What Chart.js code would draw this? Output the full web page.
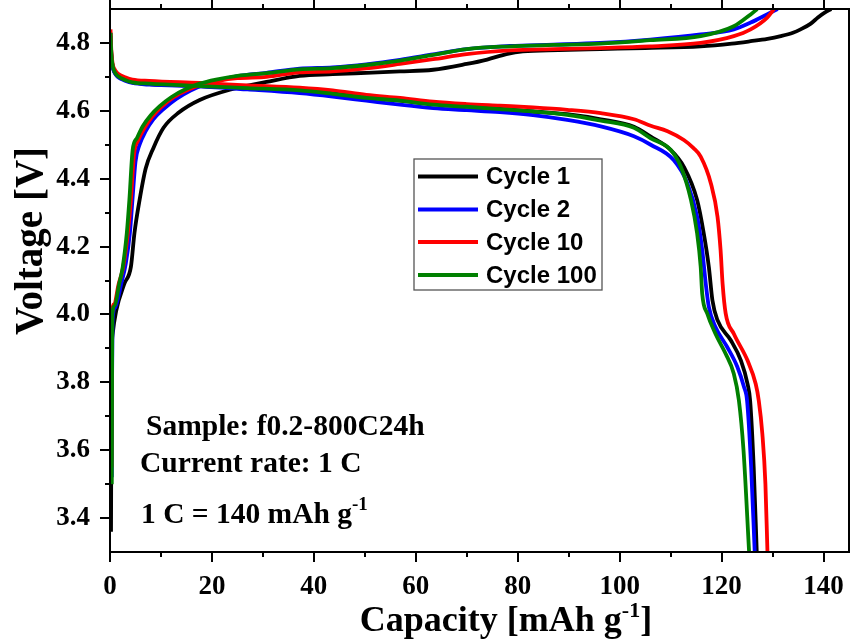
<!DOCTYPE html>
<html>
<head>
<meta charset="utf-8">
<script src="https://cdn.jsdelivr.net/npm/chart.js@4.4.1/dist/chart.umd.min.js"></script>
<style>
  html, body { margin: 0; padding: 0; background: #fff; }
  canvas { display: block; }
</style>
</head>
<body>
<canvas id="c" width="850" height="641"></canvas>
<script>
// ---------------- DATA ----------------
const capacityTicks = [0, 20, 40, 60, 80, 100, 120, 140];
const capacityMinorTicks = [10, 30, 50, 70, 90, 110, 130];
const voltageTicks = [3.4, 3.6, 3.8, 4.0, 4.2, 4.4, 4.6, 4.8];
const voltageMinorTicks = [3.5, 3.7, 3.9, 4.1, 4.3, 4.5, 4.7];

const cycleLabels = ['Cycle 1', 'Cycle 2', 'Cycle 10', 'Cycle 100'];
const cycleColors = ['#000000', '#0000ff', '#ff0000', '#008000'];

const annotationLines = ['Sample: f0.2-800C24h', 'Current rate: 1 C', '1 C = 140 mAh g'];
const annotationSup = '-1';
const xTitle = 'Capacity [mAh g';
const xTitleSup = '-1';
const xTitleEnd = ']';
const yTitle = 'Voltage [V]';

// Cycle 1 (black)
const c1ChargeCap = [0.2, 0.25, 0.3, 0.5, 1.2, 2.8, 4.1, 4.8, 5.8, 7.0, 8.5, 10.5, 13.5, 17.6, 23.5, 30.7, 37.2, 43.7, 50.3, 56.9, 63.4, 70, 74, 78, 81, 88, 96.2, 105, 115.9, 122, 125.7, 129, 131.6, 134, 135.5, 137.5, 138.9, 140.3, 141.5];
const c1ChargeV   = [3.36, 3.6, 3.85, 3.94, 4.01, 4.09, 4.14, 4.24, 4.337, 4.43, 4.49, 4.55, 4.595, 4.632, 4.662, 4.685, 4.703, 4.708, 4.712, 4.716, 4.721, 4.738, 4.751, 4.768, 4.775, 4.779, 4.782, 4.785, 4.79, 4.798, 4.805, 4.812, 4.82, 4.83, 4.84, 4.857, 4.875, 4.89, 4.90];
const c1DischCap = [0.1, 0.25, 0.5, 0.9, 1.5, 3.1, 4.4, 7.7, 17.6, 27, 37.2, 43.7, 50.3, 56.9, 63.4, 70, 76.5, 83, 89.7, 96.3, 102.8, 106.1, 110, 112.6, 115.2, 116.5, 117.5, 118.2, 119.2, 121.8, 123.8, 125.1, 125.6, 126.3, 126.9];
const c1DischV   = [4.83, 4.77, 4.733, 4.714, 4.702, 4.69, 4.684, 4.679, 4.673, 4.667, 4.661, 4.651, 4.64, 4.63, 4.62, 4.613, 4.606, 4.598, 4.59, 4.575, 4.553, 4.524, 4.485, 4.435, 4.337, 4.239, 4.14, 4.042, 3.983, 3.924, 3.864, 3.795, 3.746, 3.55, 3.30];

// Cycle 2 (blue)
const c2ChargeCap = [0.35, 0.4, 0.5, 1.0, 2.2, 3.1, 3.9, 4.4, 5.0, 5.8, 7.0, 8.5, 10.5, 13, 15.8, 18.5, 21.5, 25, 30.7, 37.2, 43.7, 50.3, 56.9, 63.4, 70, 78.5, 87, 96.2, 106, 115.9, 122.4, 125.7, 128.9, 131];
const c2ChargeV   = [3.52, 3.8, 3.98, 4.02, 4.09, 4.15, 4.24, 4.337, 4.45, 4.5, 4.54, 4.575, 4.605, 4.635, 4.66, 4.677, 4.69, 4.702, 4.712, 4.724, 4.728, 4.737, 4.75, 4.766, 4.782, 4.791, 4.795, 4.8, 4.81, 4.825, 4.84, 4.86, 4.884, 4.90];
const c2DischCap = [0.1, 0.25, 0.5, 0.9, 1.5, 3.1, 4.4, 7.7, 17.6, 27, 37.2, 43.7, 50.3, 56.9, 63.4, 70, 76.5, 83, 89.7, 96.3, 102.8, 106.1, 110.6, 113.3, 115.2, 116.2, 116.9, 117.5, 118.8, 121.1, 123.1, 124.4, 125.0, 125.8, 126.5];
const c2DischV   = [4.82, 4.765, 4.73, 4.712, 4.7, 4.688, 4.682, 4.677, 4.672, 4.663, 4.652, 4.642, 4.63, 4.618, 4.608, 4.602, 4.596, 4.587, 4.573, 4.554, 4.525, 4.50, 4.455, 4.386, 4.288, 4.19, 4.09, 4.022, 3.963, 3.904, 3.845, 3.786, 3.746, 3.55, 3.30];

// Cycle 10 (red)
const c10ChargeCap = [0.3, 0.35, 0.4, 0.8, 1.7, 2.6, 3.5, 4.1, 4.7, 5.6, 6.8, 8.3, 10, 12.5, 15.3, 18, 21.2, 25, 30.7, 37.2, 43.7, 50.3, 56.9, 63.4, 70, 78.5, 87, 96.2, 106, 115.9, 122.4, 125.7, 128.9, 130.3];
const c10ChargeV   = [3.55, 3.8, 4.0, 4.03, 4.09, 4.14, 4.24, 4.337, 4.47, 4.515, 4.55, 4.583, 4.61, 4.64, 4.662, 4.677, 4.688, 4.696, 4.70, 4.713, 4.716, 4.725, 4.738, 4.752, 4.767, 4.778, 4.782, 4.785, 4.79, 4.80, 4.82, 4.84, 4.874, 4.90];
const c10DischCap = [0.1, 0.25, 0.5, 0.9, 1.5, 3.1, 4.4, 7.7, 17.6, 27, 37.2, 43.7, 50.3, 56.9, 63.4, 70, 76.5, 83, 89.7, 96.3, 102.8, 106.1, 109.4, 112.6, 114.5, 115.9, 117.9, 119.2, 119.8, 120.2, 120.8, 122.4, 125.1, 126.7, 127.3, 128.0, 128.6, 129.0];
const c10DischV   = [4.84, 4.78, 4.74, 4.722, 4.71, 4.698, 4.692, 4.688, 4.682, 4.675, 4.668, 4.66, 4.647, 4.638, 4.627, 4.62, 4.615, 4.61, 4.603, 4.593, 4.575, 4.556, 4.54, 4.514, 4.49, 4.465, 4.386, 4.288, 4.19, 4.09, 4.003, 3.943, 3.864, 3.795, 3.746, 3.648, 3.5, 3.30];

// Cycle 100 (green)
const c100ChargeCap = [0.35, 0.4, 0.45, 0.9, 1.8, 2.5, 3.3, 3.8, 4.45, 5.3, 6.4, 8, 9.7, 12, 14.9, 17.6, 20.8, 25, 30.7, 37.2, 43.7, 50.3, 56.9, 63.4, 70, 78.5, 87, 96.2, 106, 115.9, 122.4, 125.7, 127];
const c100ChargeV   = [3.50, 3.8, 4.0, 4.025, 4.09, 4.14, 4.24, 4.337, 4.485, 4.52, 4.554, 4.587, 4.613, 4.64, 4.664, 4.68, 4.692, 4.703, 4.711, 4.722, 4.726, 4.735, 4.748, 4.765, 4.782, 4.79, 4.794, 4.798, 4.808, 4.82, 4.849, 4.884, 4.90];
const c100DischCap = [0.1, 0.25, 0.5, 0.9, 1.5, 3.1, 4.4, 7.7, 17.6, 27, 37.2, 43.7, 50.3, 56.9, 63.4, 70, 76.5, 83, 89.7, 96.3, 102.8, 106.1, 110, 112, 114, 115.2, 115.9, 116.2, 117.2, 118.8, 120.8, 122.4, 123.4, 124.3, 125.4];
const c100DischV   = [4.83, 4.77, 4.735, 4.715, 4.703, 4.69, 4.684, 4.68, 4.673, 4.667, 4.66, 4.65, 4.638, 4.63, 4.618, 4.612, 4.605, 4.598, 4.588, 4.571, 4.55, 4.519, 4.485, 4.435, 4.337, 4.239, 4.14, 4.061, 4.002, 3.943, 3.884, 3.825, 3.746, 3.6, 3.30];

// ---------------- BUILD ----------------
function pts(xs, ys) { return xs.map((x, i) => ({ x: x, y: ys[i] })); }
const curves = [
  [c1ChargeCap, c1ChargeV, c1DischCap, c1DischV],
  [c2ChargeCap, c2ChargeV, c2DischCap, c2DischV],
  [c10ChargeCap, c10ChargeV, c10DischCap, c10DischV],
  [c100ChargeCap, c100ChargeV, c100DischCap, c100DischV]
];
const datasets = [];
curves.forEach((c, i) => {
  const common = {
    borderColor: cycleColors[i], backgroundColor: cycleColors[i],
    showLine: true, pointRadius: 0, borderWidth: 3.8,
    cubicInterpolationMode: 'monotone', fill: false,
    order: curves.length - i
  };
  datasets.push(Object.assign({ label: cycleLabels[i], data: pts(c[0], c[1]) }, common));
  datasets.push(Object.assign({ label: cycleLabels[i], data: pts(c[2], c[3]) }, common));
});

const SERIF = "'Liberation Serif', 'Times New Roman', serif";
const SANS = "'Liberation Sans', Arial, sans-serif";

function drawSupText(ctx, parts, x, y, align) {
  let total = 0;
  parts.forEach(p => { ctx.font = p.font; total += ctx.measureText(p.t).width; });
  let cx = align === 'center' ? x - total / 2 : x;
  parts.forEach(p => {
    ctx.font = p.font;
    ctx.fillText(p.t, cx, y + (p.dy || 0));
    cx += ctx.measureText(p.t).width;
  });
}

const decorPlugin = {
  id: 'decor',
  afterDraw(chart) {
    const ctx = chart.ctx;
    const a = chart.chartArea;
    const xs = chart.scales.x, ys = chart.scales.y;
    ctx.save();
    ctx.strokeStyle = '#000';
    ctx.lineWidth = 2;
    ctx.strokeRect(a.left, a.top, a.right - a.left, a.bottom - a.top);
    ctx.beginPath();
    const major = 10, minor = 5;
    capacityTicks.forEach(v => {
      const px = Math.round(xs.getPixelForValue(v));
      ctx.moveTo(px, a.bottom); ctx.lineTo(px, a.bottom + major);
      ctx.moveTo(px, a.top); ctx.lineTo(px, a.top - major);
    });
    capacityMinorTicks.forEach(v => {
      const px = Math.round(xs.getPixelForValue(v));
      ctx.moveTo(px, a.bottom); ctx.lineTo(px, a.bottom + minor);
      ctx.moveTo(px, a.top); ctx.lineTo(px, a.top - minor);
    });
    voltageTicks.forEach(v => {
      const py = Math.round(ys.getPixelForValue(v));
      ctx.moveTo(a.left, py); ctx.lineTo(a.left - major, py);
    });
    voltageMinorTicks.forEach(v => {
      const py = Math.round(ys.getPixelForValue(v));
      ctx.moveTo(a.left, py); ctx.lineTo(a.left - minor, py);
    });
    ctx.stroke();

    ctx.fillStyle = '#000';
    ctx.textBaseline = 'alphabetic';
    ctx.textAlign = 'left';
    drawSupText(ctx, [
      { t: xTitle, font: `bold 36px ${SERIF}` },
      { t: xTitleSup, font: `bold 22px ${SERIF}`, dy: -14 },
      { t: xTitleEnd, font: `bold 36px ${SERIF}` }
    ], 506, 631, 'center');
    ctx.save();
    ctx.translate(42, 241);
    ctx.rotate(-Math.PI / 2);
    ctx.font = `bold 39px ${SERIF}`;
    ctx.textAlign = 'center';
    ctx.fillText(yTitle, 0, 0);
    ctx.restore();

    ctx.textAlign = 'left';
    ctx.font = `bold 29.5px ${SERIF}`;
    ctx.fillText(annotationLines[0], 146, 435);
    ctx.fillText(annotationLines[1], 140, 472);
    drawSupText(ctx, [
      { t: annotationLines[2], font: `bold 29.5px ${SERIF}` },
      { t: annotationSup, font: `bold 19px ${SERIF}`, dy: -13 }
    ], 141, 523, 'left');

    const lx = 414, ly = 159, lw = 188, lh = 131;
    ctx.strokeStyle = '#555';
    ctx.lineWidth = 1.3;
    ctx.strokeRect(lx, ly, lw, lh);
    const rowY = [176.5, 209.5, 242, 275];
    ctx.font = `bold 24px ${SANS}`;
    ctx.textBaseline = 'middle';
    cycleLabels.forEach((lab, i) => {
      ctx.strokeStyle = cycleColors[i];
      ctx.lineWidth = 4;
      ctx.beginPath();
      ctx.moveTo(418, rowY[i]);
      ctx.lineTo(478, rowY[i]);
      ctx.stroke();
      ctx.fillStyle = '#000';
      ctx.fillText(lab, 486, rowY[i] + 1);
    });
    ctx.restore();
  }
};

function zeroPad(s) { s.paddingTop = 0; s.paddingBottom = 0; s.paddingLeft = 0; s.paddingRight = 0; }

new Chart(document.getElementById('c'), {
  type: 'scatter',
  data: { datasets: datasets },
  options: {
    responsive: false,
    animation: false,
    layout: { padding: { top: 9, right: 1, left: 0, bottom: 0 } },
    plugins: { legend: { display: false }, tooltip: { enabled: false } },
    scales: {
      x: {
        type: 'linear', min: 0, max: 145,
        afterBuildTicks: s => { s.ticks = capacityTicks.map(v => ({ value: v })); },
        afterFit: s => { s.height = 89; zeroPad(s); },
        ticks: {
          color: '#000', padding: 19, maxRotation: 0, autoSkip: false,
          font: { family: SERIF, size: 27, weight: 'bold' },
          callback: v => String(v)
        },
        grid: { display: false, drawTicks: false },
        border: { display: true, color: '#000', width: 2 }
      },
      y: {
        type: 'linear', min: 3.3, max: 4.9,
        afterBuildTicks: s => { s.ticks = voltageTicks.map(v => ({ value: v })); },
        afterFit: s => { s.width = 110; zeroPad(s); },
        ticks: {
          color: '#000', padding: 20, autoSkip: false,
          font: { family: SERIF, size: 27, weight: 'bold' },
          callback: v => Number(v).toFixed(1)
        },
        grid: { display: false, drawTicks: false },
        border: { display: true, color: '#000', width: 2 }
      }
    }
  },
  plugins: [decorPlugin]
});
</script>
</body>
</html>
